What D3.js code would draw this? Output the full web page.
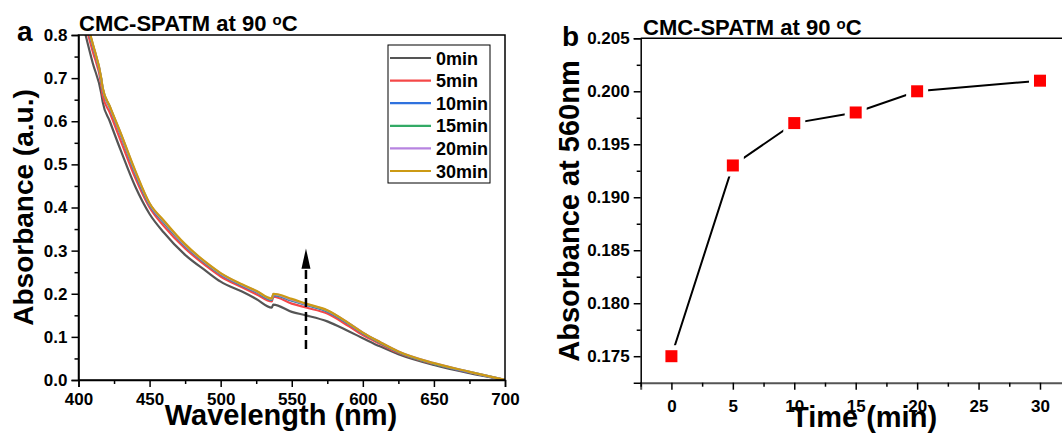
<!DOCTYPE html>
<html>
<head>
<meta charset="utf-8">
<script src="https://cdn.jsdelivr.net/npm/d3@7"></script>
<style>
  body { margin: 0; background: #fff; }
  svg { font-family: "Liberation Sans", Arial, sans-serif; font-weight: bold; }
</style>
</head>
<body>
<svg width="1062" height="434"></svg>
<script>
const svg = d3.select('svg');

// panel a: spectra
const wavelengths = [400, 405, 410, 416, 417, 422, 430, 440, 450, 460, 475, 490, 500, 515, 525, 536, 537, 550, 560, 575, 590, 600, 612, 625, 650, 675, 700];
const seriesNames = ['0min', '5min', '10min', '15min', '20min', '30min'];
const seriesColors = ['#555555', '#f44848', '#2f72de', '#33aa66', '#b784e0', '#cc9a14'];
const abs0 = [.870, .800, .735, .665, .645, .600, .530, .448, .385, .342, .290, .252, .228, .205, .188, .168, .175, .158, .150, .136, .113, .097, .078, .060, .035, .016, .000];
const abs5 = [.885, .822, .762, .685, .660, .620, .552, .468, .400, .357, .305, .264, .240, .215, .199, .182, .193, .177, .168, .154, .125, .104, .084, .063, .037, .018, .000];
const abs10 = [.897, .836, .776, .697, .675, .632, .566, .479, .406, .365, .311, .269, .245, .219, .204, .186, .197, .184, .174, .159, .130, .108, .087, .065, .038, .018, .000];
const abs15 = [.898, .838, .778, .698, .676, .633, .568, .481, .408, .366, .312, .270, .246, .220, .205, .187, .198, .185, .175, .160, .131, .109, .087, .065, .038, .019, .000];
const abs20 = [.899, .839, .779, .699, .677, .634, .569, .483, .409, .368, .313, .271, .247, .221, .206, .188, .199, .186, .176, .161, .132, .110, .088, .066, .039, .019, .000];
const abs30 = [.900, .840, .780, .700, .678, .635, .570, .485, .410, .370, .315, .272, .248, .222, .207, .189, .200, .188, .177, .162, .132, .110, .088, .066, .039, .019, .000];
const spectra = [abs0, abs5, abs10, abs15, abs20, abs30];
const xTicksA = [400, 450, 500, 550, 600, 650, 700];
const yTicksA = [0.0, 0.1, 0.2, 0.3, 0.4, 0.5, 0.6, 0.7, 0.8];

// panel b: absorbance at 560 nm
const times = [0, 5, 10, 15, 20, 30];
const abs560 = [0.175, 0.193, 0.197, 0.198, 0.200, 0.201];
const xTicksB = [0, 5, 10, 15, 20, 25, 30];
const yTicksB = [0.175, 0.180, 0.185, 0.190, 0.195, 0.200, 0.205];

const title = (g, x, y) => {
  const t = g.append('text').attr('x', x).attr('y', y).attr('font-size', 22);
  t.append('tspan').text('CMC-SPATM at 90 ');
  t.append('tspan').text('o').attr('font-size', 15).attr('dy', -6);
  t.append('tspan').text('C').attr('dy', 6);
};

const styleAxis = (sel, w) => {
  sel.attr('font-family', '"Liberation Sans", Arial, sans-serif').attr('font-size', 17).attr('font-weight', 'bold');
  sel.select('.domain').attr('stroke', '#000').attr('stroke-width', w);
  sel.selectAll('.tick line').attr('stroke', '#000').attr('stroke-width', 1.5);
  sel.selectAll('.tick text').attr('fill', '#000');
};

// ---------- panel a ----------
const a = { left: 78.5, right: 505, top: 35, bottom: 380 };
const xA = d3.scaleLinear().domain([400, 700]).range([a.left, a.right]);
const yA = d3.scaleLinear().domain([0, 0.8]).range([a.bottom, a.top]);

svg.append('clipPath').attr('id', 'clipA')
  .append('rect')
    .attr('x', a.left).attr('y', a.top)
    .attr('width', a.right - a.left).attr('height', a.bottom - a.top);

const line = d3.line()
  .x((d, i) => xA(wavelengths[i]))
  .y(d => yA(d))
  .curve(d3.curveMonotoneX);

const linesG = svg.append('g').attr('clip-path', 'url(#clipA)');
spectra.forEach((s, k) => {
  linesG.append('path')
    .attr('d', line(s))
    .attr('fill', 'none')
    .attr('stroke', seriesColors[k])
    .attr('stroke-width', 2.2);
});

// box
svg.append('rect')
  .attr('x', a.left).attr('y', a.top)
  .attr('width', a.right - a.left).attr('height', a.bottom - a.top)
  .attr('fill', 'none').attr('stroke', '#000').attr('stroke-width', 1.5);

const axA_x = svg.append('g')
  .attr('transform', `translate(0,${a.bottom})`)
  .call(d3.axisBottom(xA).tickValues(xTicksA).tickSize(7).tickPadding(6).tickFormat(d3.format('d')));
styleAxis(axA_x, 1.5);
svg.append('g')
  .attr('transform', `translate(0,${a.bottom})`)
  .call(d3.axisBottom(xA).tickValues(xTicksA.slice(0, -1).map(d => d + 25)).tickSize(4).tickFormat(''))
  .call(s => styleAxis(s, 0));

const axA_y = svg.append('g')
  .attr('transform', `translate(${a.left},0)`)
  .call(d3.axisLeft(yA).tickValues(yTicksA).tickSize(7).tickPadding(4).tickFormat(d3.format('.1f')));
styleAxis(axA_y, 1.5);
svg.append('g')
  .attr('transform', `translate(${a.left},0)`)
  .call(d3.axisLeft(yA).tickValues(yTicksA.slice(0, -1).map(d => d + 0.05)).tickSize(4).tickFormat(''))
  .call(s => styleAxis(s, 0));

// arrow at 560 nm
const arrowX = xA(560);
svg.append('line')
  .attr('x1', arrowX).attr('x2', arrowX)
  .attr('y1', yA(0.072)).attr('y2', yA(0.262))
  .attr('stroke', '#000').attr('stroke-width', 2.5)
  .attr('stroke-dasharray', '9,5');
svg.append('path')
  .attr('d', `M${arrowX},${yA(0.305)} L${arrowX - 4.5},${yA(0.258)} L${arrowX + 4.5},${yA(0.258)} Z`)
  .attr('fill', '#000');

// legend
const leg = svg.append('g');
leg.append('rect')
  .attr('x', 388).attr('y', 45).attr('width', 102).attr('height', 138)
  .attr('fill', '#fff').attr('stroke', '#000').attr('stroke-width', 1);
seriesNames.forEach((n, k) => {
  const yy = 58 + k * 22.6;
  leg.append('line')
    .attr('x1', 390).attr('x2', 431).attr('y1', yy).attr('y2', yy)
    .attr('stroke', seriesColors[k]).attr('stroke-width', 2.2);
  leg.append('text')
    .attr('x', 436).attr('y', yy + 6.5)
    .attr('font-size', 18)
    .text(n);
});

title(svg, 79, 31);
svg.append('text').attr('x', 17).attr('y', 41).attr('font-size', 28).text('a');
svg.append('text')
  .attr('transform', `translate(33,${(a.top + a.bottom) / 2}) rotate(-90)`)
  .attr('text-anchor', 'middle').attr('font-size', 28)
  .text('Absorbance (a.u.)');
svg.append('text')
  .attr('x', 281).attr('y', 425)
  .attr('text-anchor', 'middle').attr('font-size', 29)
  .text('Wavelength (nm)');

// ---------- panel b ----------
const b = { left: 640.7, right: 1070.7, top: 38.3, bottom: 382.7 };
const xB = d3.scaleLinear().domain([-2.5, 32.5]).range([b.left, b.right]);
const yB = d3.scaleLinear().domain([0.1725, 0.205]).range([b.bottom, b.top]);

svg.append('line')
  .attr('x1', b.left).attr('x2', 1062).attr('y1', b.top).attr('y2', b.top)
  .attr('stroke', '#000').attr('stroke-width', 1.5);

const axB_x = svg.append('g')
  .attr('transform', `translate(0,${b.bottom})`)
  .call(d3.axisBottom(xB).tickValues(xTicksB).tickSize(7).tickPadding(10).tickFormat(d3.format('d')));
styleAxis(axB_x, 2);
axB_x.select('.domain').attr('stroke', '#555');
svg.append('g')
  .attr('transform', `translate(0,${b.bottom})`)
  .call(d3.axisBottom(xB).tickValues([-2.5].concat(xTicksB.map(d => d + 2.5))).tickSize(4).tickFormat(''))
  .call(s => styleAxis(s, 0));

const axB_y = svg.append('g')
  .attr('transform', `translate(${b.left},0)`)
  .call(d3.axisLeft(yB).tickValues(yTicksB).tickSize(7).tickPadding(4).tickFormat(d3.format('.3f')));
styleAxis(axB_y, 1.5);
svg.append('g')
  .attr('transform', `translate(${b.left},0)`)
  .call(d3.axisLeft(yB).tickValues(yTicksB.slice(0, -1).map(d => d + 0.0025)).tickSize(4).tickFormat(''))
  .call(s => styleAxis(s, 0));

const lineB = d3.line()
  .x((d, i) => xB(times[i]))
  .y(d => yB(d));
svg.append('path')
  .attr('d', lineB(abs560))
  .attr('fill', 'none').attr('stroke', '#000').attr('stroke-width', 2);

svg.append('g').selectAll('rect')
  .data(abs560)
  .join('rect')
    .attr('x', (d, i) => xB(times[i]) - 8.5)
    .attr('y', d => yB(d) - 8.5)
    .attr('width', 17).attr('height', 17)
    .attr('fill', '#ff0000')
    .attr('stroke', '#fff').attr('stroke-width', 5);

title(svg, 643, 35);
svg.append('text').attr('x', 562).attr('y', 46).attr('font-size', 28).text('b');
svg.append('text')
  .attr('transform', `translate(579,211) rotate(-90)`)
  .attr('text-anchor', 'middle').attr('font-size', 29)
  .text('Absorbance at 560nm');
svg.append('text')
  .attr('x', 864).attr('y', 427)
  .attr('text-anchor', 'middle').attr('font-size', 29)
  .text('Time (min)');
</script>
</body>
</html>
